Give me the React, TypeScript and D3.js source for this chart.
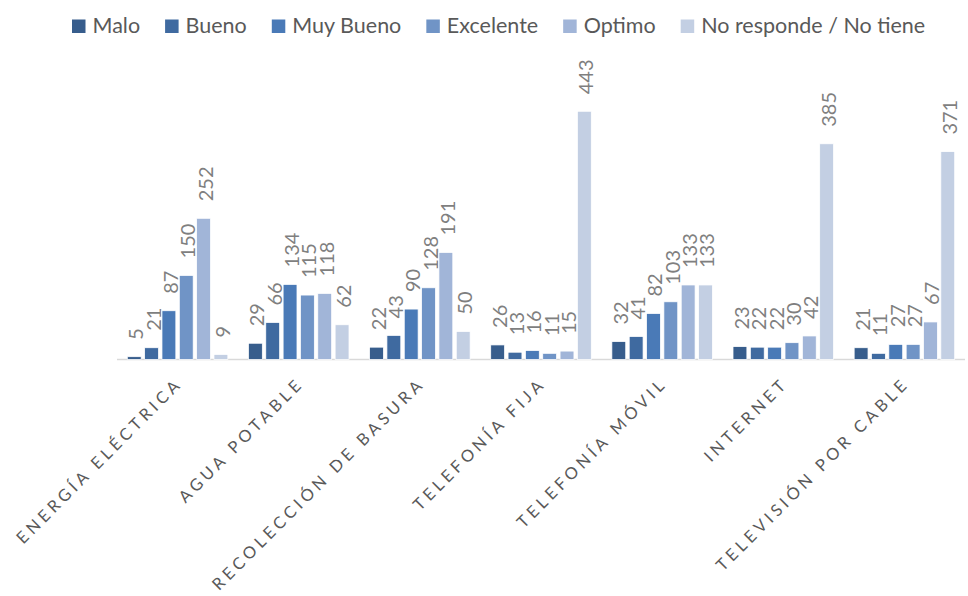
import React, { useEffect, useRef } from "react";
import * as d3 from "d3";

const categories = [
  "ENERGÍA ELÉCTRICA",
  "AGUA POTABLE",
  "RECOLECCIÓN DE BASURA",
  "TELEFONÍA FIJA",
  "TELEFONÍA MÓVIL",
  "INTERNET",
  "TELEVISIÓN POR CABLE",
];
const seriesNames = ["Malo", "Bueno", "Muy Bueno", "Excelente", "Optimo", "No responde / No tiene"];
const malo = [5, 29, 22, 26, 32, 23, 21];
const bueno = [21, 66, 43, 13, 41, 22, 11];
const muyBueno = [87, 134, 90, 16, 82, 22, 27];
const excelente = [150, 115, 128, 11, 103, 30, 27];
const optimo = [252, 118, 191, 15, 133, 42, 67];
const noResponde = [9, 62, 50, 443, 133, 385, 371];
const seriesValues = [malo, bueno, muyBueno, excelente, optimo, noResponde];
const colors = ["#375D8C", "#3F6AA0", "#4A7AB7", "#7094C6", "#A1B5D8", "#C3CFE3"];

const W = 968;
const H = 596;
const FONT = "Lato, 'Liberation Sans', sans-serif";

export default function App() {
  const ref = useRef<SVGSVGElement>(null);
  useEffect(() => {
    const svg = d3.select(ref.current);
    svg.selectAll("*").remove();

    const left = 117, right = 965, baseY = 359.5;
    const x0 = d3.scaleBand<string>().domain(categories).range([left, right]).paddingInner(0.17).paddingOuter(0.085);
    const x1 = d3.scaleBand<string>().domain(seriesNames).range([0, x0.bandwidth()]).paddingInner(0.2).paddingOuter(0);
    const y = d3.scaleLinear().domain([0, 252]).range([baseY, 218.3]);

    svg.append("line").attr("x1", left).attr("x2", right).attr("y1", baseY).attr("y2", baseY)
      .attr("stroke", "#D9D9D9").attr("stroke-width", 1.5);

    const g = svg.append("g");
    seriesNames.forEach((s, si) => {
      const vals = seriesValues[si];
      categories.forEach((c, ci) => {
        const v = vals[ci];
        const bx = (x0(c) as number) + (x1(s) as number);
        g.append("rect")
          .attr("x", bx).attr("y", y(v)).attr("width", x1.bandwidth()).attr("height", baseY - y(v))
          .attr("fill", colors[si]).attr("stroke", "#fff").attr("stroke-width", 0.75);
        const lx = bx + x1.bandwidth() / 2 + 1;
        const ly = y(v) - 17;
        g.append("text")
          .attr("transform", `translate(${lx},${ly}) rotate(-90)`)
          .attr("text-anchor", "start").attr("dominant-baseline", "central")
          .attr("font-family", FONT).attr("font-size", 20).attr("fill", "#7F7F7F")
          .text(v);
      });
    });

    categories.forEach((c) => {
      const cx = (x0(c) as number) + x0.bandwidth() / 2 + 6;
      svg.append("text")
        .attr("transform", `translate(${cx},${baseY + 25}) rotate(-45)`)
        .attr("text-anchor", "end")
        .attr("font-family", FONT).attr("font-size", 16.5).attr("letter-spacing", 4)
        .attr("fill", "#595959")
        .text(c);
    });

    const lg = svg.append("g");
    let cursor = 72;
    seriesNames.forEach((s, si) => {
      lg.append("rect").attr("x", cursor).attr("y", 19.5).attr("width", 13.5).attr("height", 13.5).attr("fill", colors[si]);
      const t = lg.append("text").attr("x", cursor + 20.5).attr("y", 33)
        .attr("font-family", FONT).attr("font-size", 21.5).attr("fill", "#595959").text(s);
      const w = (t.node() as SVGTextElement).getComputedTextLength();
      cursor += 20.5 + w + 25;
    });
  }, []);
  return (
    <svg ref={ref} width={W} height={H} style={{ position: "absolute", left: 0, top: 0, background: "#fff" }} />
  );
}
